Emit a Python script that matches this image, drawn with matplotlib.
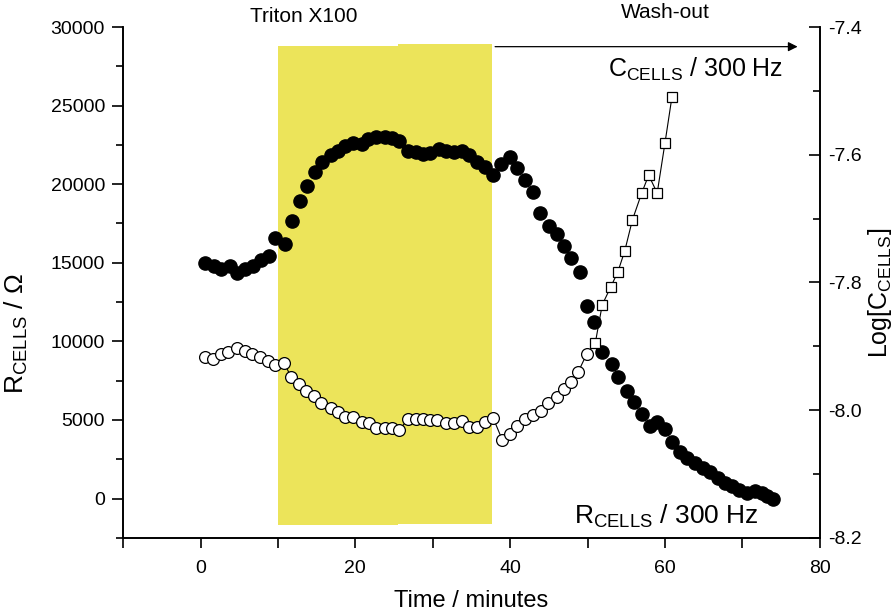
import matplotlib
matplotlib.use("Agg")
import matplotlib.pyplot as plt
from matplotlib.ticker import MultipleLocator, FormatStrFormatter

plt.rcParams["font.family"] = ["Liberation Sans", "DejaVu Sans"]
plt.rcParams["mathtext.fontset"] = "custom"
plt.rcParams["mathtext.rm"] = "Liberation Sans"

# R_CELLS (filled circles, left axis)
r_time = [0.6, 1.8, 2.6, 3.8, 4.7, 5.7, 6.8, 7.8, 8.8, 9.6, 10.9, 11.8, 12.9, 13.8, 14.8,
          15.7, 16.8, 17.7, 18.7, 19.7, 20.8, 21.7, 22.7, 23.8, 24.7, 25.7, 26.8, 27.8,
          28.7, 29.7, 30.8, 31.7, 32.7, 33.8, 34.7, 35.7, 36.8, 37.8, 38.8, 40.0, 40.9,
          41.9, 42.9, 43.9, 45.0, 46.0, 47.0, 47.9, 49.0, 49.9, 50.9, 51.9, 53.1, 54.0,
          55.1, 56.0, 57.0, 58.1, 59.0, 60.0, 60.9, 61.9, 62.9, 63.9, 64.9, 65.8, 66.8,
          67.8, 68.7, 69.6, 70.6, 71.6, 72.5, 73.2, 74.0]
r_cells = [14970, 14780, 14590, 14780, 14330, 14590, 14780, 15160, 15410, 16560, 16180,
           17640, 18920, 19870, 20760, 21400, 21850, 22100, 22420, 22610, 22550, 22870,
           22990, 22990, 22930, 22740, 22100, 22040, 21910, 21980, 22230, 22100, 22040,
           22100, 21850, 21400, 21080, 20570, 21270, 21720, 21020, 20260, 19490, 18150,
           17330, 16820, 16050, 15290, 14400, 12230, 11210, 9300, 8540, 7710, 6820, 6120,
           5350, 4590, 4840, 4400, 3570, 2990, 2610, 2290, 1970, 1660, 1340, 1020, 830,
           570, 380, 450, 380, 190, 0]

# log C_CELLS (open markers, right axis)
c_time = [0.6, 1.6, 2.6, 3.6, 4.7, 5.7, 6.6, 7.7, 8.7, 9.6, 10.8, 11.7, 12.7, 13.6, 14.7,
          15.6, 16.9, 17.8, 18.7, 19.7, 20.8, 21.8, 22.7, 23.8, 24.7, 25.7, 26.8, 27.8,
          28.7, 29.7, 30.6, 31.7, 32.7, 33.8, 34.7, 35.7, 36.8, 37.8, 39.0, 40.0, 40.9,
          41.9, 42.9, 44.0, 44.9, 46.0, 46.9, 47.9, 48.8, 49.9, 51.0, 51.9, 53.0, 53.9,
          54.8, 55.8, 57.0, 57.9, 59.0, 60.0, 60.9]
log_c = [-7.917, -7.920, -7.912, -7.909, -7.903, -7.907, -7.912, -7.917, -7.923, -7.929,
         -7.926, -7.948, -7.959, -7.970, -7.978, -7.989, -7.996, -8.003, -8.011, -8.011,
         -8.018, -8.020, -8.028, -8.028, -8.028, -8.031, -8.014, -8.014, -8.014, -8.015,
         -8.015, -8.020, -8.020, -8.017, -8.026, -8.026, -8.018, -8.012, -8.047, -8.037,
         -8.025, -8.014, -8.007, -8.001, -7.989, -7.979, -7.967, -7.956, -7.940, -7.912,
         -7.895, -7.835, -7.807, -7.784, -7.751, -7.702, -7.660, -7.632, -7.660, -7.582,
         -7.510]

triton_start, triton_mid, triton_end = 10.0, 25.5, 37.7

fig = plt.figure(figsize=(8.92, 6.14), dpi=100)
ax = fig.add_axes([0.138, 0.124, 0.781, 0.832])
ax2 = ax.twinx()

yellow = "#ECE45A"
ax.fill_between([triton_start, triton_mid], -1700, 28800, color=yellow, lw=0, zorder=0)
ax.fill_between([triton_mid, triton_end], -1600, 28900, color=yellow, lw=0, zorder=0)

ax.plot(r_time, r_cells, "o", color="black", ms=9.5, zorder=3)

split = 50
ax2.plot(c_time, log_c, "-", color="black", lw=0.8, zorder=2)
ax2.plot(c_time[:split], log_c[:split], "o", mfc="white", mec="black", mew=0.9, ms=8.5)
ax2.plot(c_time[split:], log_c[split:], "s", mfc="white", mec="black", mew=0.9, ms=7)

ax.set_xlim(-10, 80)
ax.set_ylim(-2500, 30000)
ax2.set_ylim(-8.2, -7.4)

ax.xaxis.set_major_locator(MultipleLocator(20))
ax.xaxis.set_minor_locator(MultipleLocator(10))
ax.yaxis.set_major_locator(MultipleLocator(5000))
ax.yaxis.set_minor_locator(MultipleLocator(2500))
ax2.yaxis.set_major_locator(MultipleLocator(0.2))
ax2.yaxis.set_minor_locator(MultipleLocator(0.1))
ax2.yaxis.set_major_formatter(FormatStrFormatter("%.1f"))

for a in (ax, ax2):
    a.spines["top"].set_visible(False)
    for s in a.spines.values():
        s.set_linewidth(1.2)
ax.tick_params(axis="both", which="major", direction="out", length=8, width=1.2,
               labelsize=14, pad=5)
ax.tick_params(axis="both", which="minor", direction="out", length=5, width=1.2)
ax.tick_params(axis="x", which="both", length=7, pad=9)
ax2.tick_params(axis="y", which="major", direction="in", length=8, width=1.2,
                labelsize=14, pad=6)
ax2.tick_params(axis="y", which="minor", direction="in", length=5, width=1.2)

ax.set_xlabel("Time / minutes", fontsize=17)
ax.xaxis.set_label_coords(0.5, -0.102)
ax.set_ylabel(r"R$_{\mathrm{CELLS}}$ / Ω", fontsize=19)
ax.yaxis.set_label_coords(-0.133, 0.40)
ax2.set_ylabel(r"Log[C$_{\mathrm{CELLS}}$]", fontsize=18)
ax2.yaxis.set_label_coords(1.066, 0.48)

ax.annotate("", xy=(77.5, 28750), xytext=(triton_end, 28750),
            arrowprops=dict(arrowstyle="-|>", color="black", lw=0.9, mutation_scale=14),
            annotation_clip=False)
ax.text(13.3, 30700, "Triton X100", ha="center", va="center", fontsize=15, clip_on=False)
ax.text(60.0, 30900, "Wash-out", ha="center", va="center", fontsize=15, clip_on=False)
ax.text(64.0, 27300, r"C$_{\mathrm{CELLS}}$ / 300 Hz", ha="center", va="center", fontsize=18)
ax.text(60.2, -1100, r"R$_{\mathrm{CELLS}}$ / 300 Hz", ha="center", va="center", fontsize=19)

fig.savefig("out.png", dpi=100)
